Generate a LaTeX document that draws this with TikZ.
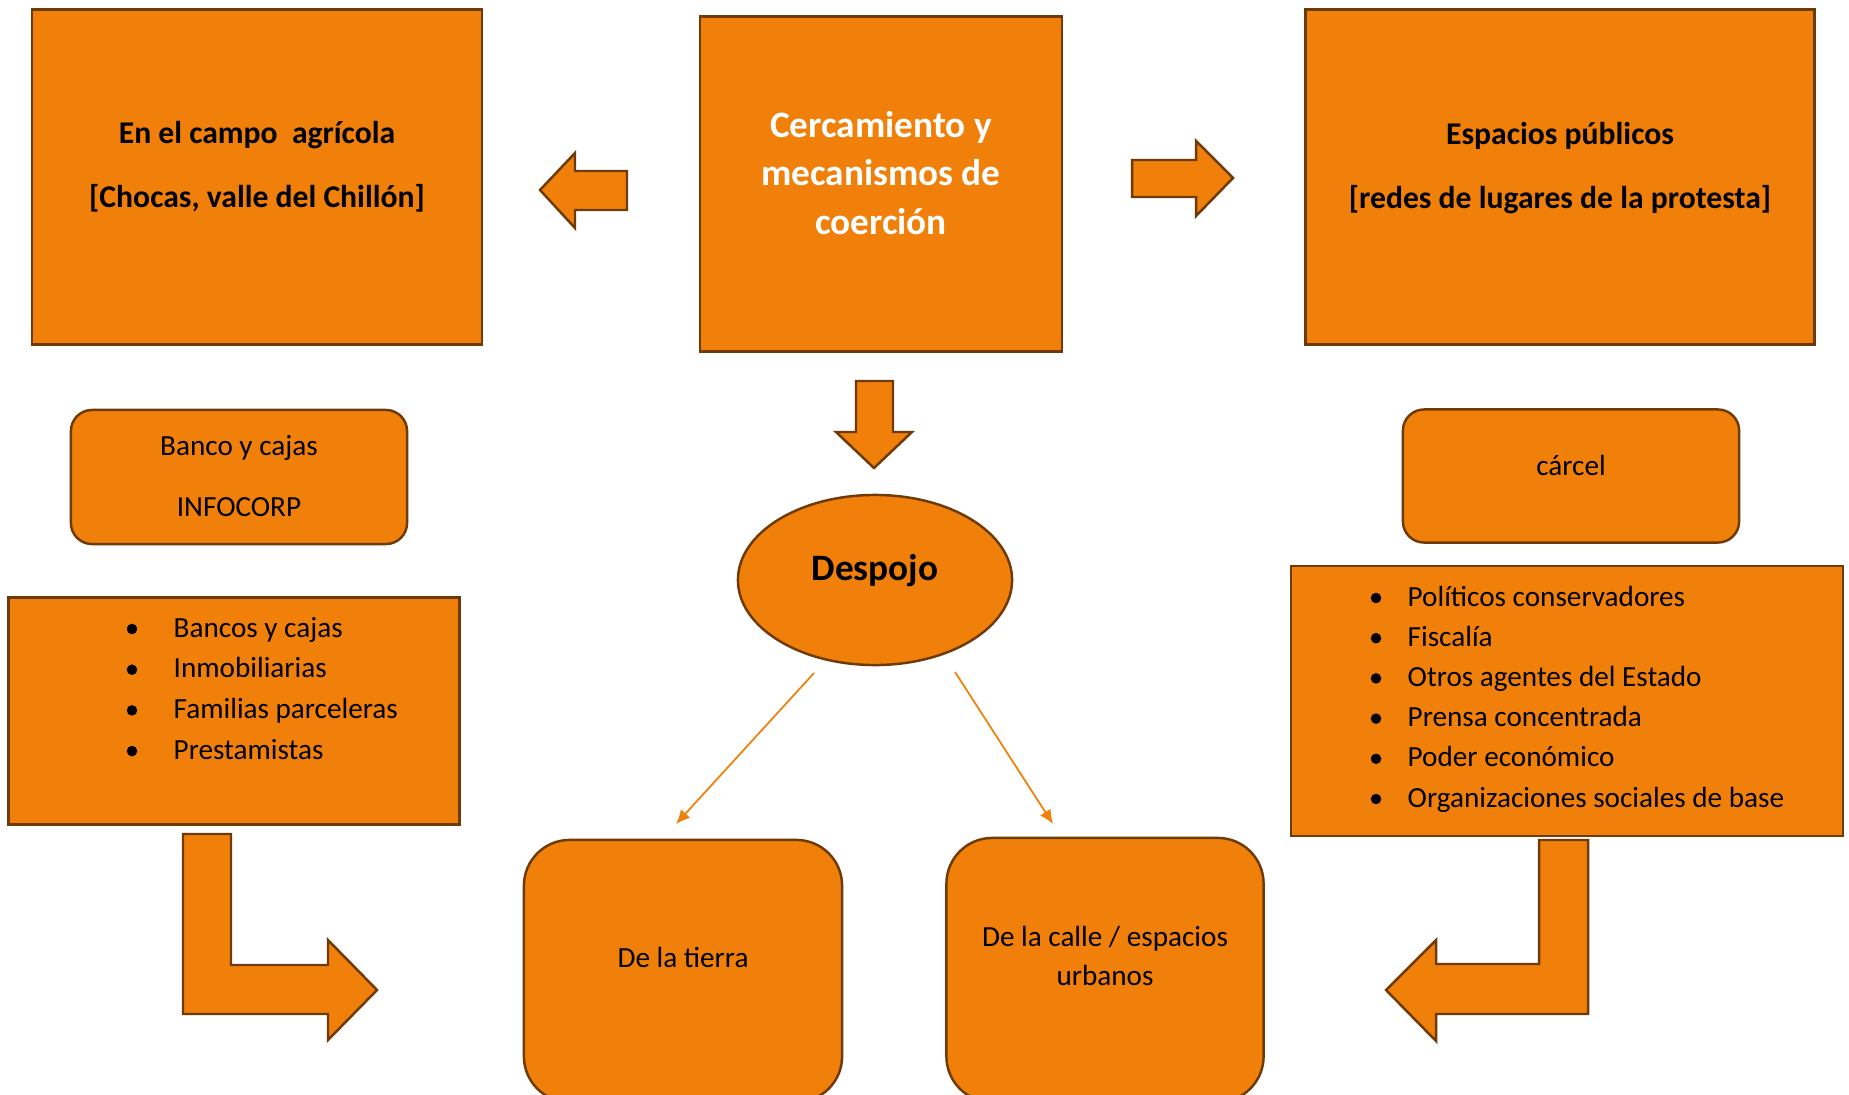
\documentclass[tikz,border=0pt]{standalone}
\usepackage{fontspec}
\setmainfont{Carlito}
\usetikzlibrary{shapes.geometric,arrows.meta}
\definecolor{naranja}{RGB}{240,128,10}
\definecolor{borde}{RGB}{110,58,6}

\begin{document}
\begin{tikzpicture}[x=0.01cm, y=-0.01cm,
  caja/.style={draw=borde, fill=naranja, line width=0.7pt, inner sep=0},
  redonda/.style={caja, rounded corners=6pt},
  alta/.style={caja, rounded corners=13pt},
  flecha/.style={draw=borde, fill=naranja, line width=0.7pt},
  titulo/.style={font=\bfseries\fontsize{9}{18.2}\selectfont, align=center},
  texto/.style={font=\fontsize{8.3}{17.4}\selectfont, align=center},
  punto/.style={font=\fontsize{8.3}{10}\selectfont, anchor=base west, inner sep=0},
  linea/.style={draw=naranja, line width=0.5pt, -{Latex[length=4pt,width=3.6pt]}}]

\useasboundingbox (0,0) rectangle (1849,1094);

% Top boxes
\node[caja, minimum width=4.5cm, minimum height=3.35cm] (campo) at (257,177) {};
\node[titulo] (campoT) at (257,167) {En el campo\ \ agrícola\\{}[Chocas, valle del Chillón]};

\node[caja, minimum width=3.62cm, minimum height=3.35cm] (cerca) at (881,184) {};
\node[titulo, text=white, font=\bfseries\fontsize{10.6}{13.8}\selectfont] (cercaT) at (881,173) {Cercamiento y\\mecanismos de\\coerción};

\node[caja, minimum width=5.09cm, minimum height=3.35cm] (espacios) at (1560,177) {};
\node[titulo] (espaciosT) at (1560,168) {Espacios públicos\\{}[redes de lugares de la protesta]};

% Block arrows
\draw[flecha] (627,171) -- (575,171) -- (575,153) -- (540,190) -- (575,228) -- (575,210) -- (627,210) -- cycle;
\draw[flecha] (1132,160) -- (1196,160) -- (1196,141) -- (1233,178) -- (1196,216) -- (1196,197) -- (1132,197) -- cycle;
\draw[flecha] (856,381) -- (893,381) -- (893,432) -- (912,432) -- (874,468) -- (836,432) -- (856,432) -- cycle;

% Small boxes
\node[redonda, minimum width=3.36cm, minimum height=1.34cm] (banco) at (239,477) {};
\node[texto] (bancoT) at (239,476) {Banco y cajas\\INFOCORP};

\node[redonda, minimum width=3.36cm, minimum height=1.33cm] (carcel) at (1571,476) {};
\node[texto] (carcelT) at (1571,465) {cárcel};

% Despojo
\node[ellipse, caja, minimum width=2.74cm, minimum height=1.7cm] (despojo) at (875,580) {};
\node[font=\bfseries\fontsize{10.6}{13}\selectfont] (despojoT) at (875,571) {Despojo};

% Lists
\node[caja, minimum width=4.51cm, minimum height=2.27cm] (actores) at (234,711) {};
\foreach \t [count=\i from 0] in {Bancos y cajas, Inmobiliarias, Familias parceleras, Prestamistas}{
  \fill (132,629+40.7*\i) circle[radius=1.5pt];
  \node[punto] (izq\i) at (173,637+40.7*\i) {\t};
}

\node[caja, minimum width=5.52cm, minimum height=2.7cm] (agentes) at (1567,701) {};
\foreach \t [count=\i from 0] in {Políticos conservadores, Fiscalía, Otros agentes del Estado, Prensa concentrada, Poder económico, Organizaciones sociales de base}{
  \fill (1376,598+40.2*\i) circle[radius=1.5pt];
  \node[punto] (der\i) at (1407,606+40.2*\i) {\t};
}

% Bottom boxes
\node[alta, minimum width=3.18cm, minimum height=2.62cm] (tierra) at (683,971) {};
\node[texto] (tierraT) at (683,957) {De la tierra};

\node[alta, minimum width=3.17cm, minimum height=2.64cm] (calle) at (1105,970) {};
\node[texto, font=\fontsize{8.3}{11.1}\selectfont] (calleT) at (1105,956) {De la calle / espacios\\urbanos};

% Thin arrows
\coordinate (d1) at (814,673);
\coordinate (d2) at (676,824);
\coordinate (d3) at (955,672);
\coordinate (d4) at (1053,824);
\draw[linea] (d1) -- (d2);
\draw[linea] (d3) -- (d4);

% Bent arrows
\draw[flecha] (183,834) -- (231,834) -- (231,965) -- (328,965) -- (328,940) -- (377,990) -- (328,1040) -- (328,1014) -- (183,1014) -- cycle;
\draw[flecha] (1588,840) -- (1539,840) -- (1539,964) -- (1436,964) -- (1436,940) -- (1386,990) -- (1436,1041) -- (1436,1014) -- (1588,1014) -- cycle;

\end{tikzpicture}
\end{document}
